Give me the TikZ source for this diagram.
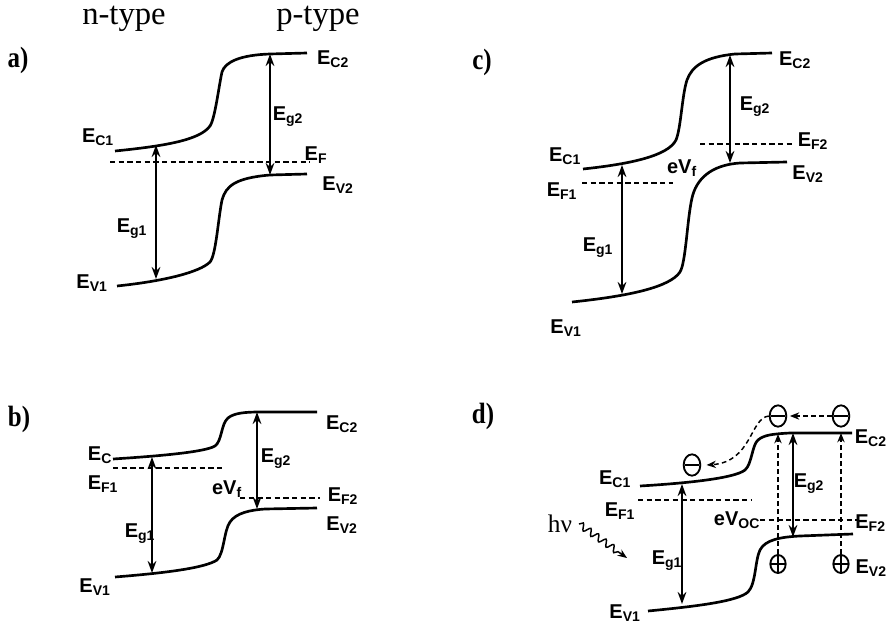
\documentclass[tikz,border=0pt]{standalone}
\usepackage{fontspec}
\setmainfont{Liberation Serif}
\newfontfamily\lsans{Liberation Sans}
\usetikzlibrary{arrows.meta,shapes.geometric,decorations.pathmorphing}
\newcommand\lblfont{\lsans\bfseries\fontsize{15}{17}\selectfont}
\newcommand\panelfont{\bfseries\fontsize{22}{25}\selectfont}
\newcommand\typefont{\fontsize{24.5}{28}\selectfont}
\begin{document}
\begin{tikzpicture}[x=0.75pt,y=-0.75pt,
  band/.style={line width=2pt},
  fermi/.style={dash pattern=on 4pt off 2.5pt, line width=1.2pt},
  gaparrow/.style={line width=1.6pt, {Stealth[length=9pt,width=6.5pt]}-{Stealth[length=9pt,width=6.5pt]}},
  carrier/.style={dash pattern=on 3.5pt off 2.5pt, line width=1.1pt, -{Stealth[length=7pt,width=5.5pt]}},
  lbl/.style={inner sep=0pt, font=\lblfont},
  panel/.style={inner sep=0pt, font=\panelfont},
  minuscharge/.style={draw, line width=1.4pt, ellipse, minimum width=12.5pt, minimum height=16pt, inner sep=0pt,
    path picture={\draw[line width=1.4pt] ([xshift=-5pt]path picture bounding box.center) -- ([xshift=5pt]path picture bounding box.center);}},
  pluscharge/.style={draw, line width=1.4pt, ellipse, minimum width=11.5pt, minimum height=13.5pt, inner sep=0pt,
    path picture={\draw[line width=1.4pt] ([xshift=-5pt]path picture bounding box.center) -- ([xshift=5pt]path picture bounding box.center)
      ([yshift=-6pt]path picture bounding box.center) -- ([yshift=6pt]path picture bounding box.center);}}
]
\useasboundingbox (0,0) rectangle (889,624);

% ---------------- headers
\node[inner sep=0pt, font=\typefont] (ntype) at (124,19) {n-type};
\node[inner sep=0pt, font=\typefont] (ptype) at (318,19) {p-type};

% ---------------- panel a
\node[panel] (pa) at (18,60) {\scalebox{0.85}[1]{a)}};
\draw[band] (115,151) .. controls (165,146) and (200,140) .. (210,126) .. controls (215,119) and (219,85) .. (222,72) .. controls (225,62) and (240,55) .. (270,54) -- (307,53);
\draw[band] (117,286) .. controls (165,281) and (200,272) .. (210,262) .. controls (216,255) and (218,220) .. (222,200) .. controls (226,186) and (235,178) .. (270,175) -- (307,174);
\draw[fermi] (110,162) -- (310,162);
\coordinate (a-g1t) at (156,145);
\coordinate (a-g1b) at (156,279);
\coordinate (a-g2t) at (270,54);
\coordinate (a-g2b) at (270,175);
\draw[gaparrow] (a-g1t) -- (a-g1b);
\draw[gaparrow] (a-g2t) -- (a-g2b);
\node[lbl] (a-ec2) at (333,59) {E\textsubscript{C2}};
\node[lbl] (a-ec1) at (98,137) {E\textsubscript{C1}};
\node[lbl] (a-ef) at (316,155) {E\textsubscript{F}};
\node[lbl] (a-ev2) at (338,185) {E\textsubscript{V2}};
\node[lbl] (a-eg1) at (132,229) {E\textsubscript{g1}};
\node[lbl] (a-eg2) at (288,117) {E\textsubscript{g2}};
\node[lbl] (a-ev1) at (92,283) {E\textsubscript{V1}};

% ---------------- panel c
\node[panel] (pc) at (482,62) {\scalebox{0.85}[1]{c)}};
\draw[band] (583,169) .. controls (630,164) and (668,156) .. (676,140) .. controls (681,128) and (682,95) .. (687,80) .. controls (692,66) and (705,57) .. (735,54) -- (772,53);
\draw[band] (572,302) .. controls (630,296) and (670,287) .. (680,272) .. controls (686,262) and (687,220) .. (692,198) .. controls (696,180) and (710,165) .. (740,163) -- (787,162);
\draw[fermi] (700,144) -- (792,144);
\draw[fermi] (582,183) -- (673,183);
\coordinate (c-g1t) at (622,165);
\coordinate (c-g1b) at (622,294);
\coordinate (c-g2t) at (730,55);
\coordinate (c-g2b) at (730,163);
\draw[gaparrow] (c-g1t) -- (c-g1b);
\draw[gaparrow] (c-g2t) -- (c-g2b);
\node[lbl] (c-ec2) at (795,60) {E\textsubscript{C2}};
\node[lbl] (c-eg2) at (755,107) {E\textsubscript{g2}};
\node[lbl] (c-ef2) at (813,141) {E\textsubscript{F2}};
\node[lbl] (c-ev2) at (808,174) {E\textsubscript{V2}};
\node[lbl] (c-ec1) at (565,156) {E\textsubscript{C1}};
\node[lbl] (c-ef1) at (562,191) {E\textsubscript{F1}};
\node[lbl] (c-evf) at (682,168) {eV\textsubscript{f}};
\node[lbl] (c-eg1) at (598,248) {E\textsubscript{g1}};
\node[lbl] (c-ev1) at (566,328) {E\textsubscript{V1}};

% ---------------- panel b
\node[panel] (pb) at (19,419) {\scalebox{0.85}[1]{b)}};
\draw[band] (113,459) .. controls (160,456) and (205,452) .. (215,446) .. controls (222,441) and (221,424) .. (228,418) .. controls (234,413) and (245,412) .. (260,412) -- (317,412);
\draw[band] (115,577) .. controls (165,573) and (205,568) .. (217,560) .. controls (224,554) and (224,530) .. (230,522) .. controls (236,513) and (250,510) .. (265,509) -- (317,508);
\draw[fermi] (113,468) -- (223,468);
\draw[fermi] (240,498) -- (320,498);
\coordinate (b-g1t) at (152,457);
\coordinate (b-g1b) at (152,573);
\coordinate (b-g2t) at (257,412);
\coordinate (b-g2b) at (257,509);
\draw[gaparrow] (b-g1t) -- (b-g1b);
\draw[gaparrow] (b-g2t) -- (b-g2b);
\node[lbl] (b-ec2) at (342,424) {E\textsubscript{C2}};
\node[lbl] (b-ec) at (100,455) {E\textsubscript{C}};
\node[lbl] (b-ef1) at (103,484) {E\textsubscript{F1}};
\node[lbl] (b-evf) at (227,489) {eV\textsubscript{f}};
\node[lbl] (b-ef2) at (343,496) {E\textsubscript{F2}};
\node[lbl] (b-ev2) at (342,525) {E\textsubscript{V2}};
\node[lbl] (b-eg1) at (140,534) {E\textsubscript{g1}};
\node[lbl] (b-eg2) at (276,459) {E\textsubscript{g2}};
\node[lbl] (b-ev1) at (95,587) {E\textsubscript{V1}};

% ---------------- panel d
\node[panel] (pd) at (483,416) {\scalebox{0.85}[1]{d)}};
\draw[band] (640,486) .. controls (690,483) and (735,478) .. (745,470) .. controls (752,464) and (752,445) .. (758,440) .. controls (764,435) and (772,434) .. (790,433) -- (852,433);
\draw[band] (648,611) .. controls (700,606) and (738,601) .. (748,592) .. controls (756,584) and (755,560) .. (760,550) .. controls (765,540) and (780,537) .. (800,536) -- (853,534);
\draw[fermi] (638,500) -- (752,500);
\draw[fermi] (760,520) -- (857,520);
\coordinate (d-g1t) at (682,484);
\coordinate (d-g1b) at (682,604);
\coordinate (d-g2t) at (793,433);
\coordinate (d-g2b) at (793,537);
\draw[gaparrow] (d-g1t) -- (d-g1b);
\draw[gaparrow] (d-g2t) -- (d-g2b);
\node[lbl, anchor=east] (d-ec2) at (887,438) {E\textsubscript{C2}};
\node[lbl] (d-ec1) at (615,479) {E\textsubscript{C1}};
\node[lbl] (d-ef1) at (620,511) {E\textsubscript{F1}};
\node[lbl] (d-evoc) at (737,520) {eV\textsubscript{OC}};
\node[lbl, anchor=east] (d-ef2) at (886,523) {E\textsubscript{F2}};
\node[lbl, anchor=east] (d-ev2) at (887,568) {E\textsubscript{V2}};
\node[lbl] (d-eg2) at (809,484) {E\textsubscript{g2}};
\node[lbl] (d-eg1) at (667,561) {E\textsubscript{g1}};
\node[lbl] (d-ev1) at (625,613) {E\textsubscript{V1}};

% charges
\node[minuscharge] (m1) at (778,416) {};
\node[minuscharge] (m2) at (841,416) {};
\node[minuscharge] (m3) at (692,465) {};
\node[pluscharge] (p1) at (778,564) {};
\node[pluscharge] (p2) at (841,564) {};
\coordinate (d-c1) at (778,434);
\coordinate (d-c2) at (841,433);
\draw[carrier] (p1.north) -- (d-c1);
\draw[carrier] (p2.north) -- (d-c2);
\draw[carrier] (m2.west) -- ([xshift=2pt]m1.east);
\draw[carrier] (m1.west) .. controls (750,418) and (752,462) .. ([xshift=4pt]m3.east);

% photon
\node[inner sep=0pt, font=\fontsize{19}{21}\selectfont] (hv) at (560,524) {hν};
\coordinate (hv-end) at (627,558);
\draw[line width=1.1pt, decorate, decoration={snake, amplitude=2.5pt, segment length=7pt, post length=7pt}, -{Stealth[length=7pt,width=5.5pt]}] ([xshift=5pt]hv.east) -- (hv-end);
\end{tikzpicture}
\end{document}
